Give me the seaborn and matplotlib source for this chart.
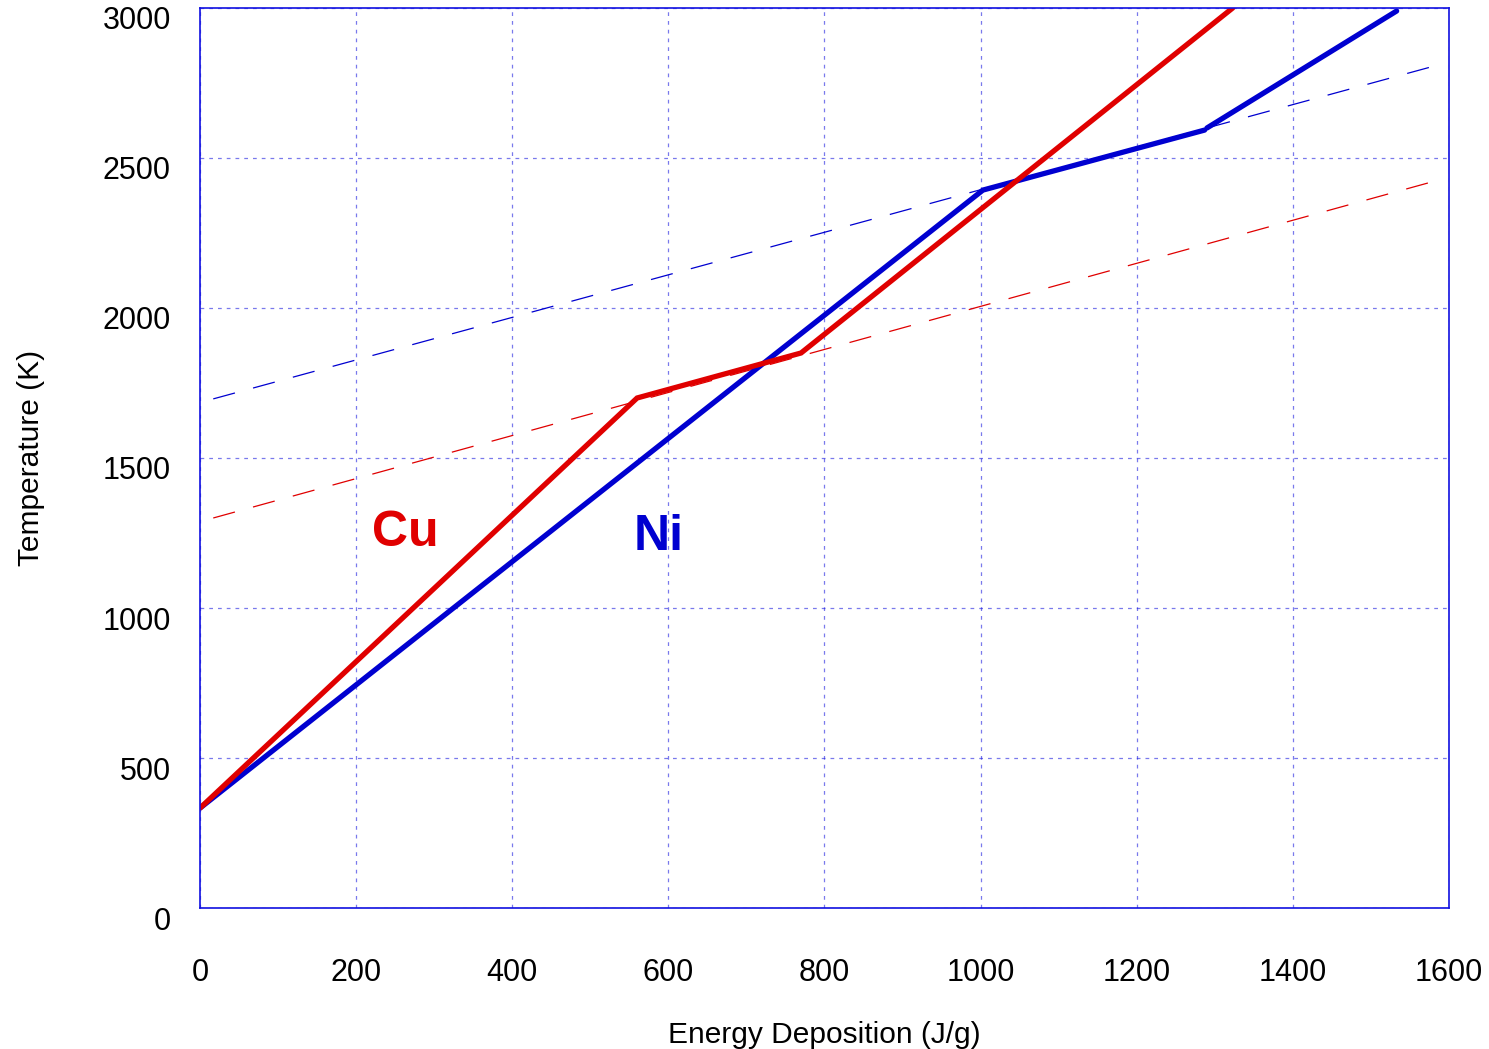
import matplotlib
matplotlib.use("Agg")
import matplotlib.pyplot as plt
import matplotlib.transforms as mtransforms
import seaborn as sns
import pandas as pd

sns.set_theme(style="white")
plt.rcParams['font.family'] = ['Liberation Sans', 'DejaVu Sans']

# Data
cu_energy = [0, 560, 770, 1323]
cu_temp = [333, 1700, 1850, 3000]

ni_energy_a = [0, 1003, 1287]
ni_temp_a = [333, 2393, 2593]
ni_energy_b = [1290, 1533]
ni_temp_b = [2600, 2990]

ni_ref_energy = [17, 1582]
ni_ref_temp = [1697, 2807]
cu_ref_energy = [17, 1582]
cu_ref_temp = [1300, 2423]

RED = "#e00000"
BLUE = "#0000d0"

fig = plt.figure(figsize=(14.89, 10.49), dpi=100)
ax = fig.add_axes([0.1343, 0.1344, 0.8388, 0.858])

def line(x, y, color, lw, ls="-", cap="round"):
    df = pd.DataFrame({"x": x, "y": y})
    sns.lineplot(data=df, x="x", y="y", ax=ax, color=color, linewidth=lw,
                 linestyle=ls, sort=False, estimator=None,
                 solid_capstyle=cap, solid_joinstyle="miter")

line(ni_ref_energy, ni_ref_temp, BLUE, 0.9, ls=(0, (18, 15)))
line(cu_ref_energy, cu_ref_temp, RED, 0.9, ls=(0, (18, 15)))
line(ni_energy_a, ni_temp_a, BLUE, 3.8)
line(ni_energy_b, ni_temp_b, BLUE, 3.8)
line(cu_energy, cu_temp, RED, 3.8)

ax.text(263, 1250, "Cu", color=RED, fontsize=36, fontweight="bold",
        ha="center", va="center")
ax.text(587, 1237, "Ni", color=BLUE, fontsize=36, fontweight="bold",
        ha="center", va="center")

ax.set_xlim(0, 1600)
ax.set_ylim(0, 3000)
ax.set_xticks(range(0, 1601, 200))
ax.set_yticks(range(0, 3001, 500))
ax.grid(True, color="#2020e0", linestyle=(0, (3, 4)), linewidth=0.9, alpha=0.6)
for s in ax.spines.values():
    s.set_color("#1010e0")
    s.set_linewidth(1.2)
ax.tick_params(axis="both", length=0, labelsize=22, colors="black")
ax.tick_params(axis="x", pad=36)
ax.tick_params(axis="y", pad=21)
offset = mtransforms.ScaledTranslation(0, -10 / 100, fig.dpi_scale_trans)
for lbl in ax.get_yticklabels():
    lbl.set_transform(lbl.get_transform() + offset)
ax.set_xlabel("Energy Deposition (J/g)", fontsize=21.5, labelpad=24, color="black")
ax.set_ylabel("Temperature (K)", fontsize=21.5, labelpad=41, color="black")

fig.savefig("out.png", dpi=100)
